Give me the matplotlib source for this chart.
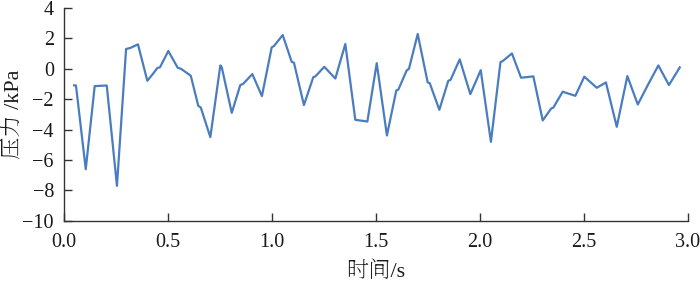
import matplotlib
matplotlib.use("Agg")
import matplotlib.pyplot as plt
from matplotlib import font_manager

# time (s) and pressure (kPa)
t = [0.050, 0.059, 0.106, 0.149, 0.207, 0.256, 0.300, 0.322, 0.357, 0.402,
     0.431, 0.450, 0.463, 0.503, 0.548, 0.564, 0.602, 0.611, 0.647, 0.659,
     0.705, 0.753, 0.760, 0.808, 0.849, 0.862, 0.907, 0.953, 1.000, 1.011,
     1.053, 1.096, 1.107, 1.155, 1.200, 1.210, 1.253, 1.306, 1.354, 1.402,
     1.460, 1.505, 1.554, 1.599, 1.609, 1.649, 1.660, 1.702, 1.750, 1.760,
     1.806, 1.849, 1.860, 1.904, 1.955, 2.005, 2.054, 2.100, 2.110, 2.155,
     2.199, 2.258, 2.303, 2.344, 2.354, 2.399, 2.460, 2.503, 2.563, 2.607,
     2.659, 2.710, 2.760, 2.810, 2.859, 2.910, 2.962]
p = [-1.09, -1.10, -6.61, -1.14, -1.10, -7.71, 1.30, 1.38, 1.61, -0.79,
     -0.30, 0.05, 0.10, 1.17, 0.07, 0.00, -0.37, -0.46, -2.44, -2.55,
     -4.50, 0.22, 0.10, -2.90, -1.07, -1.00, -0.35, -1.80, 1.41, 1.50,
     2.22, 0.46, 0.40, -2.39, -0.55, -0.50, 0.13, -0.64, 1.63, -3.36,
     -3.47, 0.37, -4.39, -1.43, -1.37, -0.11, 0.00, 2.29, -0.90, -0.95,
     -2.70, -0.79, -0.73, 0.62, -1.67, -0.09, -4.81, 0.44, 0.50, 1.01,
     -0.59, -0.50, -3.40, -2.61, -2.56, -1.51, -1.78, -0.52, -1.25, -0.90,
     -3.82, -0.48, -2.35, -1.03, 0.22, -1.07, 0.09]

x_ticks = [0.0, 0.5, 1.0, 1.5, 2.0, 2.5, 3.0]
y_ticks = [-10, -8, -6, -4, -2, 0, 2, 4]

# Times-like font for numbers, CJK font as fallback for the Chinese labels
installed = {f.name for f in font_manager.fontManager.ttflist}
serif = next((n for n in ['Liberation Serif', 'Times New Roman', 'DejaVu Serif']
              if n in installed), 'DejaVu Serif')
cjk = next((n for n in ['Noto Serif CJK SC', 'Noto Serif SC', 'Noto Sans CJK SC']
            if n in installed), 'Noto Sans CJK SC')
serif_path = font_manager.findfont(font_manager.FontProperties(family=serif))
plt.rcParams['font.family'] = [serif, cjk, 'DejaVu Sans']
plt.rcParams['axes.unicode_minus'] = True

fig = plt.figure(figsize=(7.0, 2.83), dpi=100)
ax = fig.add_axes([0.091, 0.2201, 0.8914, 0.7516])

ax.plot(t, p, color='#4a7dc0', linewidth=1.6, solid_joinstyle='round')

ax.set_xlim(0, 3.0)
ax.set_ylim(-10, 4)
ax.set_xticks(x_ticks)
ax.set_xticklabels([f"{v:.1f}" for v in x_ticks])
ax.set_yticks(y_ticks)
ax.set_yticklabels([f"{v}".replace('-', '\u2212') for v in y_ticks])

for side in ['top', 'right']:
    ax.spines[side].set_visible(False)
for side in ['left', 'bottom']:
    ax.spines[side].set_color('#333333')
    ax.spines[side].set_linewidth(1.0)

ax.tick_params(axis='both', direction='in', length=6, width=1.0,
               color='#333333', labelcolor='#1a1a1a')
ax.tick_params(axis='x', pad=9)
ax.tick_params(axis='y', pad=7)

tick_font = font_manager.FontProperties(fname=serif_path, size=14.5)
for lbl in ax.get_xticklabels() + ax.get_yticklabels():
    lbl.set_fontproperties(tick_font)

ax.set_xlabel('时间/s', fontsize=16, color='#1a1a1a', family=[serif, cjk])
ax.set_ylabel('压力 /kPa', fontsize=16, color='#1a1a1a', family=[serif, cjk])
ax.xaxis.set_label_coords(0.5, -0.19)
ax.yaxis.set_label_coords(-0.064, 0.5)

fig.savefig('out.png', dpi=100)
